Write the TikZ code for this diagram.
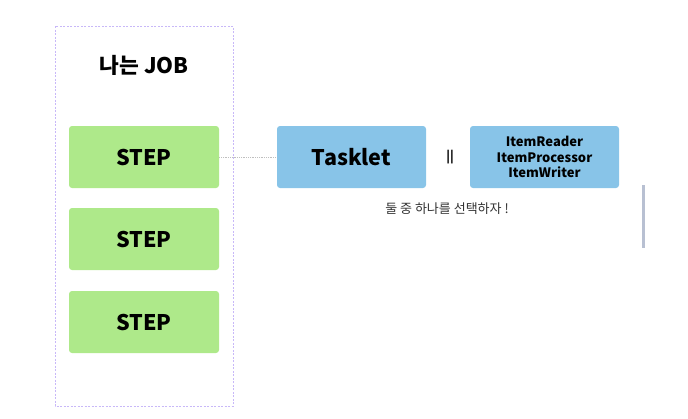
\documentclass[tikz,border=0pt]{standalone}
\usepackage{fontspec}
\setmainfont{Noto Sans CJK KR}
\usetikzlibrary{positioning}
\definecolor{stepgreen}{HTML}{AEE98A}
\definecolor{taskblue}{HTML}{88C4E8}
\definecolor{joblav}{HTML}{C8B8F8}
\definecolor{barblue}{HTML}{B8C0D2}
\tikzset{every node/.style={inner sep=0pt}}
\tikzset{stepbox/.style={fill=stepgreen, rounded corners=3pt, minimum width=150pt, minimum height=62pt, font=\fontsize{21.5}{24}\selectfont\bfseries}}
\tikzset{taskbox/.style={fill=taskblue, rounded corners=3pt, minimum width=149pt, minimum height=62pt, align=center}}

\begin{document}
\begin{tikzpicture}[x=1pt,y=-1pt]
   \useasboundingbox (0,0) rectangle (688,418);
   % job frame
   \draw[joblav, dashed, dash pattern=on 2pt off 1.5pt, line width=0.8pt] (55,26) rectangle (233,406);
   \node (job) at (144,65) {\fontsize{21.5}{24}\selectfont\bfseries 나는 JOB};
   % steps
   \node[stepbox] (step1) at (144,157) {STEP};
   \node[stepbox] (step2) at (144,239) {STEP};
   \node[stepbox] (step3) at (144,322) {STEP};
   % tasklet side
   \node[taskbox, font=\fontsize{21.5}{24}\selectfont\bfseries] (tasklet) at (351.5,157) {Tasklet};
   \node (eq) at (450,157) {\fontsize{12}{15}\selectfont\bfseries ||};
   \node[taskbox, font=\fontsize{13}{15.5}\selectfont\bfseries] (chunk) at (544.5,157) {ItemReader\\ItemProcessor\\ItemWriter};
   \node[text=black!80] (pick) at (447,209) {\fontsize{13}{15}\selectfont 둘 중 하나를 선택하자 !};
   \draw[gray!50, densely dotted, line width=0.8pt] (step1.east) -- (tasklet.west);
   % bar at the right
   \fill[barblue] (641.5,185) rectangle (644.5,248);
\end{tikzpicture}
\end{document}
